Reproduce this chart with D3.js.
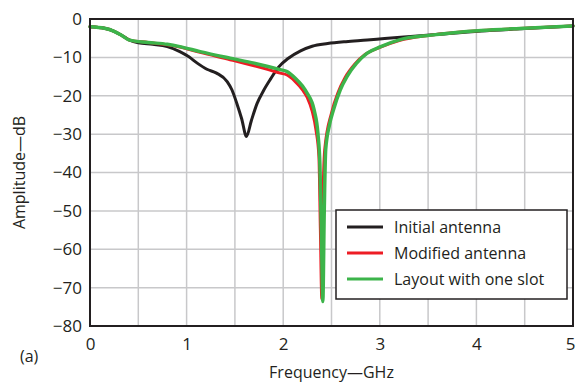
<!DOCTYPE html>
<html>
<head>
<meta charset="utf-8">
<script src="https://cdn.jsdelivr.net/npm/d3@7"></script>
<style>
  body { margin: 0; background: #fff; }
  svg text { font-family: 'Open Sans', sans-serif; fill: #231f20; }
</style>
</head>
<body>
<div id="chart"></div>
<script>
// series: [frequency GHz, amplitude dB]
const initialAntenna = [
  [0, -2.0], [0.15, -2.4], [0.25, -3.2], [0.33, -4.3], [0.41, -5.5], [0.5, -6.2],
  [0.65, -6.6], [0.8, -7.2], [0.93, -8.5], [1.02, -9.8], [1.11, -11.5], [1.21, -13.1],
  [1.31, -14.1], [1.42, -16.3], [1.47, -18.5], [1.52, -22], [1.57, -26], [1.62, -30.6],
  [1.67, -26.5], [1.73, -22], [1.8, -18.5], [1.87, -15.6], [1.95, -12.6], [2.05, -10.3],
  [2.18, -8.3], [2.3, -7.1], [2.46, -6.4], [2.65, -5.9], [2.87, -5.5], [3.05, -5.1],
  [3.25, -4.7], [3.55, -4.1], [4.05, -3.1], [4.5, -2.5], [5, -1.8]
];
const modifiedAntenna = [
  [0, -2.0], [0.15, -2.4], [0.25, -3.2], [0.33, -4.3], [0.41, -5.5], [0.6, -6.1],
  [0.8, -6.7], [0.93, -7.3], [1.14, -8.7], [1.45, -10.6], [1.7, -12.2], [1.97, -14.1],
  [2.04, -14.6], [2.12, -16.2], [2.2, -18.5], [2.25, -20.5], [2.3, -24], [2.34, -29],
  [2.37, -36], [2.385, -55], [2.4, -73], [2.41, -50], [2.43, -34], [2.5, -24.5],
  [2.57, -19], [2.64, -15.3], [2.74, -11.8], [2.85, -9.2], [3.0, -7.4], [3.2, -5.6],
  [3.53, -4.2], [4.05, -3.0], [4.5, -2.4], [5, -1.8]
];
const oneSlot = [
  [0, -2.0], [0.15, -2.4], [0.25, -3.2], [0.33, -4.3], [0.41, -5.5], [0.6, -6.1],
  [0.8, -6.6], [0.93, -7.2], [1.14, -8.5], [1.45, -10.2], [1.7, -11.5], [1.97, -13.2],
  [2.04, -13.7], [2.12, -15.3], [2.2, -17.5], [2.25, -19.4], [2.32, -23.7], [2.36, -30],
  [2.38, -38], [2.395, -55], [2.41, -73.6], [2.425, -50], [2.44, -34], [2.48, -27.5],
  [2.52, -23.7], [2.59, -18.5], [2.66, -15], [2.76, -11.5], [2.87, -8.9], [3.01, -7.2],
  [3.22, -5.3], [3.53, -4.2], [4.05, -3.0], [4.5, -2.4], [5, -1.8]
];

const seriesNames = ['Initial antenna', 'Modified antenna', 'Layout with one slot'];
const seriesColors = ['#231f20', '#ed1c24', '#3cb44a'];
const xTicks = [0, 1, 2, 3, 4, 5];
const yTicks = [0, -10, -20, -30, -40, -50, -60, -70, -80];

const margin = { top: 19, right: 3, bottom: 61, left: 90 };
const width = 576 - margin.left - margin.right;
const height = 387 - margin.top - margin.bottom;

const svg = d3.select('#chart').append('svg')
  .attr('width', 576)
  .attr('height', 387);

const g = svg.append('g')
  .attr('transform', `translate(${margin.left},${margin.top})`);

const xScale = d3.scaleLinear().domain([0, 5]).range([0, width]);
const yScale = d3.scaleLinear().domain([-80, 0]).range([height, 0]);

// grid
g.append('g')
  .selectAll('line')
  .data(d3.range(0.5, 5, 0.5))
  .enter().append('line')
  .attr('x1', d => xScale(d))
  .attr('x2', d => xScale(d))
  .attr('y1', 0)
  .attr('y2', height)
  .attr('stroke', '#c8c8ca')
  .attr('stroke-width', 1.5);

g.append('g')
  .selectAll('line')
  .data(yTicks.slice(1, -1))
  .enter().append('line')
  .attr('x1', 0)
  .attr('x2', width)
  .attr('y1', d => yScale(d))
  .attr('y2', d => yScale(d))
  .attr('stroke', '#c8c8ca')
  .attr('stroke-width', 1.5);

// axes (labels only, frame drawn separately)
const xAxis = g.append('g')
  .attr('transform', `translate(0,${height})`)
  .call(d3.axisBottom(xScale).tickValues(xTicks).tickSize(0).tickPadding(12).tickFormat(d3.format('d')));
const yAxis = g.append('g')
  .call(d3.axisLeft(yScale).tickValues(yTicks).tickSize(0).tickPadding(8).tickFormat(d3.format('d')));
[xAxis, yAxis].forEach((a) => {
  a.select('.domain').remove();
  a.selectAll('text')
    .attr('font-family', "'Open Sans', sans-serif")
    .attr('font-size', 17)
    .attr('fill', '#231f20');
});
// last x label sits at the window edge, as in the original
xAxis.selectAll('.tick').filter(d => d === 5).select('text').attr('dx', -3);

// curves
const line = d3.line()
  .x(d => xScale(d[0]))
  .y(d => yScale(d[1]))
  .curve(d3.curveMonotoneX);

const series = [initialAntenna, modifiedAntenna, oneSlot];
const widths = [3, 3, 3.5];
series.forEach((s, i) => {
  g.append('path')
    .datum(s)
    .attr('fill', 'none')
    .attr('stroke', seriesColors[i])
    .attr('stroke-width', widths[i])
    .attr('stroke-linejoin', 'round')
    .attr('stroke-linecap', 'round')
    .attr('d', line);
});

// frame
g.append('rect')
  .attr('width', width)
  .attr('height', height)
  .attr('fill', 'none')
  .attr('stroke', '#231f20')
  .attr('stroke-width', 2);

// legend
const legend = g.append('g')
  .attr('transform', `translate(${336 - margin.left},${210 - margin.top})`);
legend.append('rect')
  .attr('width', 231)
  .attr('height', 89)
  .attr('fill', '#fff')
  .attr('stroke', '#231f20')
  .attr('stroke-width', 1.5);
const item = legend.selectAll('.item')
  .data(seriesNames)
  .enter().append('g')
  .attr('class', 'item')
  .attr('transform', (d, i) => `translate(0,${17 + i * 26})`);
item.append('line')
  .attr('x1', 11)
  .attr('x2', 47)
  .attr('stroke', (d, i) => seriesColors[i])
  .attr('stroke-width', 3);
item.append('text')
  .attr('x', 58)
  .attr('dy', '0.35em')
  .attr('font-size', 16)
  .text(d => d);

// titles
svg.append('text')
  .attr('x', margin.left + xScale(2.5))
  .attr('y', 378)
  .attr('text-anchor', 'middle')
  .attr('font-size', 16)
  .text('Frequency\u2014GHz');

svg.append('text')
  .attr('transform', `translate(25,${margin.top + height / 2}) rotate(-90)`)
  .attr('text-anchor', 'middle')
  .attr('font-size', 16)
  .text('Amplitude\u2014dB');

svg.append('text')
  .attr('x', 20)
  .attr('y', 362)
  .attr('font-size', 16)
  .text('(a)');
</script>
</body>
</html>
